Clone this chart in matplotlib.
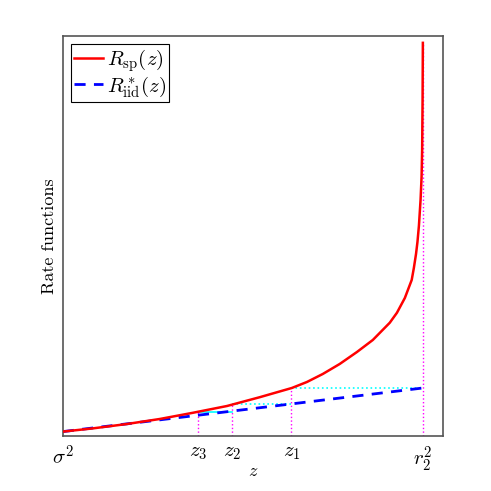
import matplotlib
matplotlib.use("Agg")
import matplotlib.pyplot as plt

plt.rcParams['mathtext.fontset'] = 'cm'
plt.rcParams['font.family'] = 'serif'
plt.rcParams['font.serif'] = ['cmr10', 'DejaVu Serif']
plt.rcParams['axes.formatter.use_mathtext'] = True

# values (x: sigma^2 -> 0, r2^2 -> 1; y: fraction of axis height)
z_sp = [0.0, 0.083, 0.178, 0.269, 0.361, 0.456, 0.547, 0.636, 0.678, 0.722,
        0.769, 0.817, 0.861, 0.908, 0.928, 0.950, 0.969, 0.975, 0.981, 0.985,
        0.989, 0.9936, 0.9964, 0.998, 0.9992, 1.0]
rate_sp = [0.011, 0.019, 0.030, 0.0425, 0.058, 0.075, 0.097, 0.12, 0.135, 0.155,
           0.18, 0.21, 0.24, 0.283, 0.308, 0.345, 0.39, 0.42, 0.455, 0.485,
           0.525, 0.59, 0.6475, 0.715, 0.84, 0.9825]
z_iid = [0.0, 1.0]
rate_iid = [0.011, 0.12]

z_marks = [0.375, 0.471, 0.635, 1.0]       # z3, z2, z1, r2^2
rate_marks = [0.06, 0.079, 0.12, 0.9825]   # red curve height at each mark
tick_pos = [0.0, 0.375, 0.471, 0.635, 1.0]
tick_labels = [r'$\sigma^2$', r'$z_3$', r'$z_2$', r'$z_1$', r'$r_2^2$']

fig = plt.figure(figsize=(4.91, 4.91), dpi=100)
ax = fig.add_axes([0.128, 0.112, 0.774, 0.815])

# dotted verticals down from the curve
for zm, rm in zip(z_marks, rate_marks):
    ax.plot([zm, zm], [0, rm], linestyle=':', color='magenta', linewidth=1, zorder=1)

# cyan steps between the two curves
ax.plot([z_marks[2], z_marks[3]], [rate_marks[2], rate_marks[2]], ':', color='cyan', linewidth=1.2, zorder=1)
ax.plot([z_marks[1], z_marks[2]], [rate_marks[1], rate_marks[1]], ':', color='cyan', linewidth=1.2, zorder=1)
ax.plot([z_marks[0], z_marks[1]], [rate_marks[0], rate_marks[0]], '-', color='cyan', linewidth=1.2, zorder=1)

ax.plot(z_sp, rate_sp, '-', color='red', linewidth=1.8, label=r'$R_{\mathrm{sp}}(z)$', zorder=3)
ax.plot(z_iid, rate_iid, '--', color='blue', linewidth=2, dashes=(4, 3), label=r'$R^*_{\mathrm{iid}}(z)$', zorder=2)

ax.set_xlim(0, 1.0556)
ax.set_ylim(0, 1)
ax.set_xticks(tick_pos)
ax.set_xticklabels(tick_labels, fontsize=15)
ax.set_yticks([])
ax.tick_params(axis='x', length=0, pad=6)
ax.set_xlabel(r'$z$', fontsize=13, labelpad=-7)
ax.set_ylabel('Rate functions', fontsize=13, labelpad=4)

for s in ax.spines.values():
    s.set_color('#555555')
    s.set_linewidth(1.2)

leg = ax.legend(loc='upper left', fontsize=15, fancybox=False, framealpha=1,
                edgecolor='black', handlelength=1.4, borderpad=0.15,
                labelspacing=0.0, handletextpad=0.15, borderaxespad=0.4)
leg.get_frame().set_linewidth(0.8)

fig.savefig('out.png', dpi=100)
